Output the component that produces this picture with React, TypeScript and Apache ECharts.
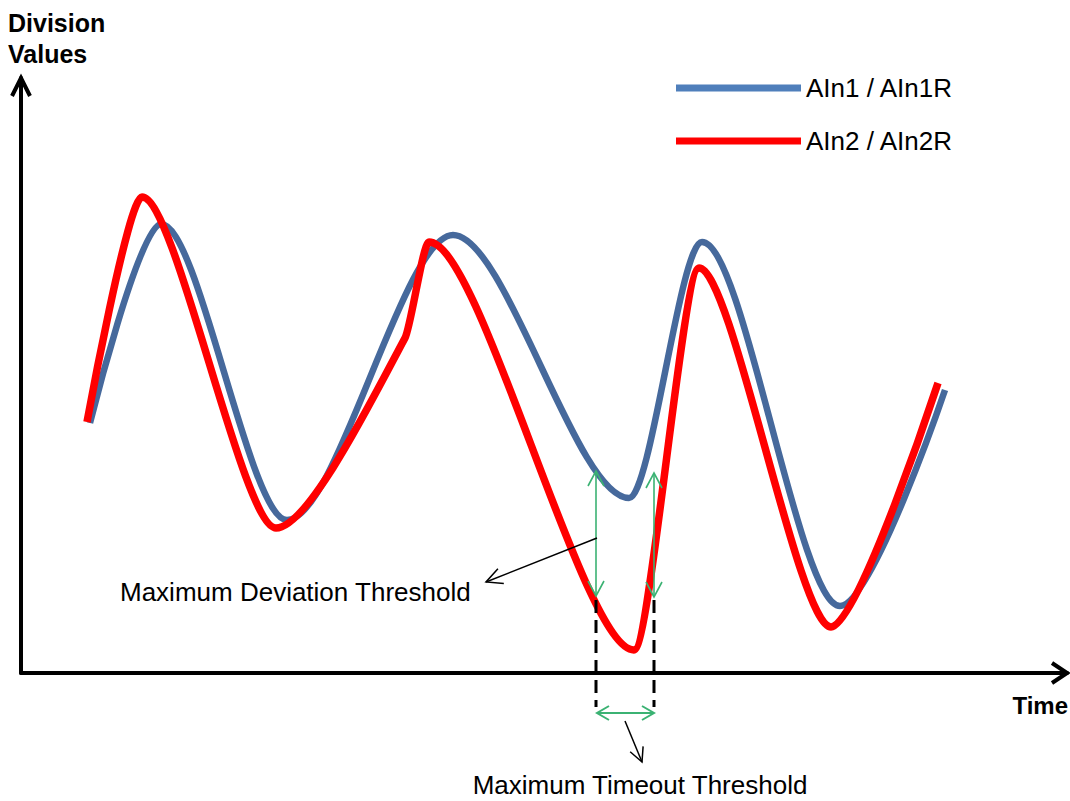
import React, { useEffect, useRef } from "react";
import * as echarts from "echarts";

// Time (x) and division value (y) pairs (turning points of each trace)
const ain1Points: [number, number][] = [
  [69, 250], [140, 449], [266, 153], [432, 438], [608, 175], [681, 431], [819, 67], [924, 283],
];

const ain2Points: [number, number][] = [
  [66, 251], [121, 476], [255, 145], [384, 335], [408, 431], [613, 23], [678, 405], [810, 46], [917, 290],
];

const seriesNames = ["AIn1 / AIn1R", "AIn2 / AIn2R"];
const yAxisTitle = ["Division", "Values"];
const xAxisTitle = "Time";
const deviationLabel = "Maximum Deviation Threshold";
const timeoutLabel = "Maximum Timeout Threshold";

const FONT = '"Liberation Sans", Arial, sans-serif';
const GREEN = "#3bb273";
const BLUE = "#46699c";
const RED = "#ff0000";

function chevron(tipX: number, tipY: number, fromX: number, fromY: number, len: number, half: number) {
  const dx = tipX - fromX;
  const dy = tipY - fromY;
  const d = Math.sqrt(dx * dx + dy * dy);
  const ux = dx / d;
  const uy = dy / d;
  const nx = -uy;
  const ny = ux;
  return [
    [tipX - ux * len + nx * half, tipY - uy * len + ny * half],
    [tipX, tipY],
    [tipX - ux * len - nx * half, tipY - uy * len - ny * half],
  ];
}

function arrowLine(x1: number, y1: number, x2: number, y2: number, color: string, width: number, both: boolean, len: number, half: number) {
  const els: any[] = [
    { type: "line", shape: { x1, y1, x2, y2 }, style: { stroke: color, lineWidth: width }, z: 20 },
    { type: "polyline", shape: { points: chevron(x2, y2, x1, y1, len, half) }, style: { stroke: color, lineWidth: width, fill: null }, z: 20 },
  ];
  if (both) {
    els.push({ type: "polyline", shape: { points: chevron(x1, y1, x2, y2, len, half) }, style: { stroke: color, lineWidth: width, fill: null }, z: 20 });
  }
  return els;
}

// Smooth path through pixel points: flat tangents at turning points
function smoothPath(pts: number[][], s: number): string {
  const n = pts.length;
  const tangents = pts.map((p, i) => {
    if (i === 0 || i === n - 1) return null;
    const prev = pts[i - 1];
    const next = pts[i + 1];
    if ((p[1] - prev[1]) * (p[1] - next[1]) > 0) return [1, 0];
    const dx = next[0] - prev[0];
    const dy = next[1] - prev[1];
    const L = Math.hypot(dx, dy);
    return [dx / L, dy / L];
  });
  let d = `M${pts[0][0]},${pts[0][1]}`;
  for (let i = 0; i < n - 1; i++) {
    const p0 = pts[i];
    const p1 = pts[i + 1];
    const dx = p1[0] - p0[0];
    const t0 = tangents[i];
    const t1 = tangents[i + 1];
    const h0 = t0 ? (s * dx) / Math.max(t0[0], 0.2) : 0;
    const h1 = t1 ? (s * dx) / Math.max(t1[0], 0.2) : 0;
    const c1 = t0 ? [p0[0] + t0[0] * h0, p0[1] + t0[1] * h0] : p0;
    const c2 = t1 ? [p1[0] - t1[0] * h1, p1[1] - t1[1] * h1] : p1;
    d += ` C${c1[0]},${c1[1]} ${c2[0]},${c2[1]} ${p1[0]},${p1[1]}`;
  }
  return d;
}

function traceSeries(name: string, points: [number, number][], color: string, s: number, width: number, z: number) {
  return {
    name,
    type: "custom",
    data: points,
    encode: { x: 0, y: 1 },
    silent: true,
    clip: false,
    itemStyle: { color },
    z,
    renderItem: (params: any, api: any) => {
      if (params.dataIndex !== 0) return null;
      const px = points.map((p) => api.coord(p));
      return {
        type: "path",
        shape: { pathData: smoothPath(px, s) },
        style: { stroke: color, lineWidth: width, fill: "none", lineJoin: "round" },
      };
    },
  };
}

export default function App() {
  const ref = useRef<HTMLDivElement>(null);

  useEffect(() => {
    if (!ref.current) return;
    const chart = echarts.init(ref.current, null, { renderer: "svg" });

    const graphics: any[] = [
      // axis arrow heads
      { type: "polyline", shape: { points: [[12, 96], [21, 78], [30, 96]] }, style: { stroke: "#000", lineWidth: 4, fill: null }, z: 20 },
      { type: "polyline", shape: { points: [[1052, 663], [1067, 673], [1052, 683]] }, style: { stroke: "#000", lineWidth: 4, fill: null }, z: 20 },
      // axis titles
      { type: "text", style: { text: yAxisTitle[0], x: 8, y: 23, font: `bold 25px ${FONT}`, fill: "#000", textVerticalAlign: "middle" }, z: 20 },
      { type: "text", style: { text: yAxisTitle[1], x: 8, y: 54, font: `bold 25px ${FONT}`, fill: "#000", textVerticalAlign: "middle" }, z: 20 },
      { type: "text", style: { text: xAxisTitle, x: 1068, y: 705, font: `bold 24px ${FONT}`, fill: "#000", textAlign: "right", textVerticalAlign: "middle" }, z: 20 },
      // dashed time markers
      { type: "line", shape: { x1: 596, y1: 600, x2: 596, y2: 707 }, style: { stroke: "#000", lineWidth: 3, lineDash: [13, 7] }, z: 18 },
      { type: "line", shape: { x1: 654, y1: 600, x2: 654, y2: 707 }, style: { stroke: "#000", lineWidth: 3, lineDash: [13, 7] }, z: 18 },
      // green threshold arrows
      ...arrowLine(596, 471, 596, 596, GREEN, 1.6, true, 15, 8),
      ...arrowLine(654, 473, 654, 597, GREEN, 1.6, true, 15, 8),
      ...arrowLine(597, 713, 654, 713, GREEN, 2, true, 12, 7),
      // black pointers
      ...arrowLine(597, 538, 486, 582, "#000", 1.5, false, 16, 8),
      ...arrowLine(625, 721, 642, 762, "#000", 1.5, false, 14, 7),
      // annotation labels
      { type: "text", style: { text: deviationLabel, x: 120, y: 592, font: `26px ${FONT}`, fill: "#000", textVerticalAlign: "middle" }, z: 20 },
      { type: "text", style: { text: timeoutLabel, x: 640, y: 785, font: `26px ${FONT}`, fill: "#000", textAlign: "center", textVerticalAlign: "middle" }, z: 20 },
    ];

    chart.setOption({
      animation: false,
      backgroundColor: "#fff",
      grid: { left: 21, right: 3, top: 78, bottom: 128, containLabel: false },
      legend: {
        left: 676,
        top: 75,
        padding: 0,
        orient: "vertical",
        itemWidth: 125,
        itemHeight: 7,
        itemGap: 27,
        icon: "rect",
        selectedMode: false,
        textStyle: { fontSize: 26, lineHeight: 26, fontFamily: FONT, color: "#000" },
        data: [
          { name: seriesNames[0], itemStyle: { color: "#4f7fbb" } },
          { name: seriesNames[1], itemStyle: { color: RED } },
        ],
      },
      xAxis: {
        type: "value",
        min: 0,
        max: 1046,
        axisLine: { show: true, onZero: false, lineStyle: { color: "#000", width: 4 } },
        axisTick: { show: false },
        axisLabel: { show: false },
        splitLine: { show: false },
      },
      yAxis: {
        type: "value",
        min: 0,
        max: 595,
        axisLine: { show: true, onZero: false, lineStyle: { color: "#000", width: 4 } },
        axisTick: { show: false },
        axisLabel: { show: false },
        splitLine: { show: false },
      },
      series: [
        traceSeries(seriesNames[0], ain1Points, BLUE, 0.3, 6.5, 2),
        traceSeries(seriesNames[1], ain2Points, RED, 0.25, 7.5, 3),
      ],
      graphic: graphics,
    });

    return () => chart.dispose();
  }, []);

  return <div ref={ref} style={{ position: "absolute", left: 0, top: 0, width: 1070, height: 801 }} />;
}
